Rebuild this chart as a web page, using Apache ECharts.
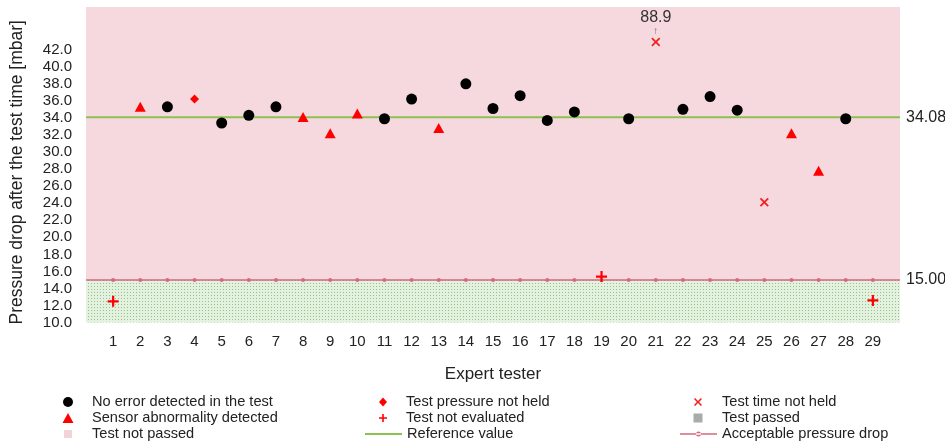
<!DOCTYPE html>
<html>
<head>
<meta charset="utf-8">
<script src="https://cdn.jsdelivr.net/npm/echarts@6/dist/echarts.min.js"></script>
<style>
  html, body { margin: 0; padding: 0; background: #fff; }
  #chart { width: 945px; height: 443px; }
</style>
</head>
<body>
<div id="chart"></div>
<script>
// Pressure drop per expert tester, grouped by test outcome
const testers = [1,2,3,4,5,6,7,8,9,10,11,12,13,14,15,16,17,18,19,20,21,22,23,24,25,26,27,28,29];

const noErrorX = [3, 5, 6, 7, 11, 12, 14, 15, 16, 17, 18, 20, 22, 23, 24, 28];
const noErrorY = [35.3, 33.4, 34.3, 35.3, 33.9, 36.2, 38.0, 35.1, 36.6, 33.7, 34.7, 33.9, 35.0, 36.5, 34.9, 33.9];

const sensorX = [2, 8, 9, 10, 13, 26, 27];
const sensorY = [35.3, 34.1, 32.2, 34.5, 32.8, 32.2, 27.8];

const pressureNotHeldX = [4];
const pressureNotHeldY = [36.2];

const notEvaluatedX = [1, 19, 29];
const notEvaluatedY = [12.5, 15.4, 12.6];

const timeNotHeldX = [21, 25];
const timeNotHeldY = [88.9, 24.1];

const referenceValue = 34.08;
const acceptableDrop = 15.0;

// value axis range; off-scale readings are pinned just below the top edge
const yMin = 10, yMax = 47, yLabelMax = 42, yCap = 42.9;
const xMin = 0, xMax = 30;

const font = 'Liberation Sans, Arial, sans-serif';
const plusPath = 'path://M4,0h2v4h4v2h-4v4h-2v-4h-4v-2h4z';
const crossPath = 'path://M1.4,0L5,3.6L8.6,0L10,1.4L6.4,5L10,8.6L8.6,10L5,6.4L1.4,10L0,8.6L3.6,5L0,1.4z';
const refLinePath = 'path://M0,0h37v2h-37z';
const dropLinePath = 'path://M0,2.4h37v1.4h-37z M21,3.1a2.5,2.5 0 1,0 -5,0a2.5,2.5 0 1,0 5,0z';

const pts = (xs, ys) => xs.map((x, i) => [x, ys[i]]);
const capped = (xs, ys) => xs.map((x, i) => ({
  value: [x, Math.min(ys[i], yCap)],
  label: ys[i] > yCap ? {
    show: true, position: 'top', distance: 1,
    formatter: '{v|' + ys[i].toFixed(1) + '}\n{a|↑}',
    rich: {
      v: { fontSize: 16, color: '#333', fontFamily: font, lineHeight: 17 },
      a: { fontSize: 10, color: '#666', lineHeight: 10 }
    }
  } : { show: false }
}));

// dotted fill for the "passed" band
const dots = document.createElement('canvas');
dots.width = 3; dots.height = 3;
const dctx = dots.getContext('2d');
dctx.fillStyle = '#e5f1e0';
dctx.fillRect(0, 0, 3, 3);
dctx.fillStyle = '#92c682';
dctx.fillRect(1, 1, 1, 1);

// one legend entry per slot: icon centred at (cx, cy), text starting at textX
function legendItem(name, icon, cx, cy, w, h, textX) {
  const left = cx - w / 2;
  return {
    left: left, top: cy - 8, padding: 0,
    itemWidth: w, itemHeight: h, selectedMode: false,
    symbolRotate: 0,
    textStyle: { fontFamily: font, fontSize: 14.6, lineHeight: 16, color: '#222',
                 padding: [0, 0, 0, Math.max(0, textX - (left + w + 5))] },
    data: [{ name: name, icon: icon }]
  };
}

const chart = echarts.init(document.getElementById('chart'), null, { renderer: 'canvas' });

chart.setOption({
  animation: false,
  grid: { left: 86, right: 45, top: 7, bottom: 120.4, containLabel: false },
  xAxis: {
    type: 'value', min: xMin, max: xMax, interval: 1,
    name: 'Expert tester', nameLocation: 'middle', nameGap: 43,
    nameTextStyle: { fontFamily: font, fontSize: 17, color: '#222' },
    axisLine: { show: false }, axisTick: { show: false }, splitLine: { show: false },
    axisLabel: {
      fontFamily: font, fontSize: 15, color: '#222', margin: 12,
      formatter: v => (v >= 1 && v <= 29) ? String(v) : ''
    }
  },
  yAxis: {
    type: 'value', min: yMin, max: yMax, interval: 2,
    name: 'Pressure drop after the test time [mbar]', nameLocation: 'middle', nameGap: 60,
    nameTextStyle: { fontFamily: font, fontSize: 17.5, color: '#222', padding: [0, 15, 0, 0] },
    axisLine: { show: false }, axisTick: { show: false }, splitLine: { show: false },
    axisLabel: {
      fontFamily: font, fontSize: 15, color: '#222', margin: 14,
      formatter: v => v <= yLabelMax ? v.toFixed(1) : ''
    }
  },
  legend: [
    legendItem('No error detected in the test', 'circle', 68, 402, 10, 10, 92),
    legendItem('Sensor abnormality detected', 'triangle', 68, 418, 11, 10, 92),
    legendItem('Test not passed', 'rect', 68, 434, 8, 8, 92),
    legendItem('Test pressure not held', 'diamond', 383, 402, 8, 9, 406),
    legendItem('Test not evaluated', plusPath, 383, 418, 8, 8, 406),
    legendItem('Reference value', refLinePath, 383.5, 434, 37, 2, 406),
    legendItem('Test time not held', crossPath, 698, 402, 8, 8, 722),
    legendItem('Test passed', 'rect', 698, 418, 9, 9, 722),
    legendItem('Acceptable pressure drop', dropLinePath, 698.5, 434, 37, 5, 722)
  ],
  series: [
    {
      name: 'Test not passed', type: 'line', data: [], z: 0,
      itemStyle: { color: '#f3d3da' },
      markArea: {
        silent: true,
        itemStyle: { color: '#f6d9de' },
        data: [[{ yAxis: acceptableDrop }, { yAxis: yMax }]]
      }
    },
    {
      name: 'Test passed', type: 'line', data: [], z: 0,
      itemStyle: { color: '#a9aba8' },
      markArea: {
        silent: true,
        itemStyle: { color: { image: dots, repeat: 'repeat' } },
        data: [[{ yAxis: yMin }, { yAxis: acceptableDrop }]]
      }
    },
    {
      name: 'Reference value', type: 'line', symbol: 'none', z: 2,
      lineStyle: { color: '#8cc152', width: 2 },
      itemStyle: { color: '#8cc152' },
      data: [[xMin, referenceValue], [xMax, referenceValue]],
      endLabel: { show: true, distance: 6, fontFamily: font, fontSize: 16, color: '#222',
        formatter: p => p.value[1].toFixed(2) }
    },
    {
      name: 'Acceptable pressure drop', type: 'line', z: 2,
      symbol: 'circle', symbolSize: 4,
      lineStyle: { color: '#d46a7e', width: 1.5 },
      itemStyle: { color: '#d46a7e' },
      data: [{ value: [xMin, acceptableDrop], symbol: 'none' }]
        .concat(testers.map(t => [t, acceptableDrop]))
        .concat([{ value: [xMax, acceptableDrop], symbol: 'none' }]),
      endLabel: { show: true, distance: 6, fontFamily: font, fontSize: 16, color: '#222',
        formatter: p => p.value[1].toFixed(2) }
    },
    {
      name: 'No error detected in the test', type: 'scatter', z: 5,
      symbol: 'circle', symbolSize: 11,
      itemStyle: { color: '#000', opacity: 1 },
      data: pts(noErrorX, noErrorY)
    },
    {
      name: 'Sensor abnormality detected', type: 'scatter', z: 5,
      symbol: 'triangle', symbolSize: [11, 10],
      itemStyle: { color: '#ff0000', opacity: 1 },
      data: pts(sensorX, sensorY)
    },
    {
      name: 'Test pressure not held', type: 'scatter', z: 5,
      symbol: 'diamond', symbolSize: 9,
      itemStyle: { color: '#ff0000', opacity: 1 },
      data: pts(pressureNotHeldX, pressureNotHeldY)
    },
    {
      name: 'Test not evaluated', type: 'scatter', z: 5,
      symbol: plusPath, symbolSize: 11,
      itemStyle: { color: '#ff0000', opacity: 1 },
      data: pts(notEvaluatedX, notEvaluatedY)
    },
    {
      name: 'Test time not held', type: 'scatter', z: 5,
      symbol: crossPath, symbolSize: 9,
      itemStyle: { color: '#ee2222', opacity: 1 },
      data: capped(timeNotHeldX, timeNotHeldY)
    }
  ]
});
</script>
</body>
</html>
